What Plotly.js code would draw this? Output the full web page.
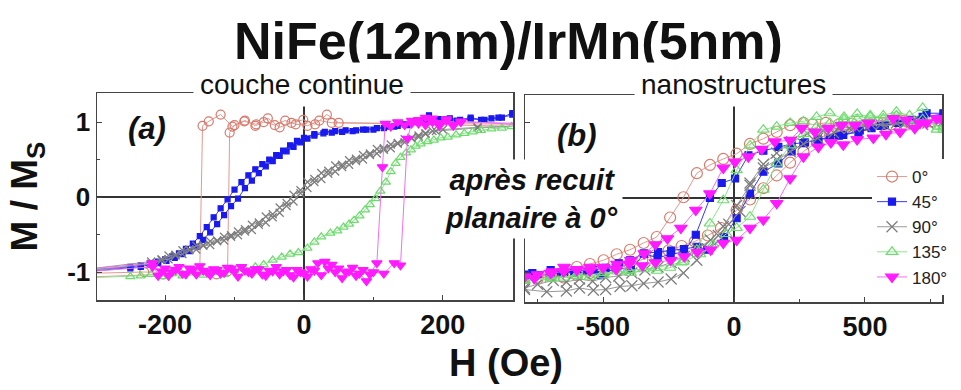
<!DOCTYPE html>
<html>
<head>
<meta charset="utf-8">
<script src="https://cdn.plot.ly/plotly-3.0.1.min.js"></script>
<style>html,body{margin:0;padding:0;background:#fff;}#chart{width:961px;height:390px;}</style>
</head>
<body>
<div id="chart"></div>
<script>
// ---------- Data ----------
const seriesNames = ['0°', '45°', '90°', '135°', '180°'];

// Tick labels
const aTickVals = [-200, 0, 200];
const aTickText = ['-200', '0', '200'];
const bTickVals = [-500, 0, 500];
const bTickText = ['-500', '0', '500'];
const yTickVals = [-1, 0, 1];
const yTickText = ['-1', '0', '1'];

// Panel (a): couche continue — each array = descending branch then ascending branch
const a0X = [320, 50, 33, 16, -1, -18, -35, -52, -69, -86, -103, -120, -137, -146, -150, -203, -320,
             -320, -230, -126, -110, -107, -100, -85, -70, -58, -42, -27, -12, 5, 22, 40, 320];
const a0Y = [0.94, 0.99, 1.10, 0.97, 1.03, 0.99, 0.93, 1.05, 0.97, 1.01, 0.94, 1.10, 1.01, 0.95, -0.98, -1.03, -1.07,
             -1.02, -1.00, -1.03, -0.99, 0.86, 0.96, 1.02, 0.95, 1.00, 0.96, 1.02, 0.97, 0.95, 1.02, 0.99, 0.97];

const a45X = [320, 300, 285, 270, 255, 240, 225, 210, 195, 180, 165, 150, 135, 120, 105, 90, 75, 60, 45, 30, 15, 0,
              -10, -20, -30, -40, -50, -60, -70, -80, -90, -100, -110, -120, -130, -140, -150, -160, -170, -180, -190,
              -200, -210, -222, -235, -250, -320,
              -320, -250, -235, -222, -210, -198, -186, -175, -165, -155, -145, -135, -125, -115, -105, -95, -85, -75,
              -65, -55, -45, -35, -25, -15, -5, 5, 15, 28, 40, 55, 70, 85, 100, 115, 130, 145, 160, 175, 190, 205, 220,
              240, 260, 280, 300, 320];
const a45Y = [1.10, 1.12, 1.06, 1.05, 1.03, 1.06, 1.03, 1.05, 1.04, 1.09, 1.02, 0.96, 0.95, 0.94, 0.92, 0.90, 0.89, 0.89,
              0.88, 0.87, 0.84, 0.79, 0.75, 0.69, 0.62, 0.56, 0.50, 0.44, 0.37, 0.29, 0.20, 0.10, -0.03, -0.15, -0.27,
              -0.40, -0.52, -0.62, -0.69, -0.75, -0.79, -0.83, -0.86, -0.88, -0.91, -0.93, -0.98,
              -1.00, -0.95, -0.93, -0.90, -0.88, -0.85, -0.81, -0.76, -0.72, -0.66, -0.57, -0.47, -0.36, -0.24, -0.12,
              -0.02, 0.12, 0.22, 0.32, 0.41, 0.48, 0.55, 0.61, 0.67, 0.73, 0.78, 0.82, 0.85, 0.86, 0.87, 0.88, 0.90,
              0.90, 0.92, 0.94, 0.97, 1.00, 1.03, 1.01, 1.04, 1.02, 1.04, 1.03, 1.06, 1.10, 1.12];

const a90X = [320, 250, 200, 185, 175, 165, 155, 145, 135, 125, 115, 105, 95, 85, 75, 65, 55, 45, 35, 25, 15, 5, -5,
              -15, -25, -35, -45, -55, -65, -75, -85, -95, -105, -115, -125, -135, -145, -155, -165, -175, -185, -195,
              -205, -220, -320,
              -320, -220, -205, -195, -185, -175, -165, -155, -145, -135, -125, -115, -105, -95, -85, -75, -65, -55,
              -45, -35, -25, -15, -5, 5, 15, 25, 35, 45, 55, 65, 75, 85, 95, 105, 115, 125, 135, 145, 155, 165, 175,
              190, 250, 320];
const a90Y = [0.95, 0.93, 0.90, 0.88, 0.84, 0.82, 0.78, 0.77, 0.72, 0.70, 0.65, 0.64, 0.58, 0.56, 0.51, 0.49, 0.43,
              0.42, 0.35, 0.32, 0.24, 0.20, 0.09, 0.03, -0.08, -0.14, -0.23, -0.26, -0.34, -0.37, -0.43, -0.46, -0.51,
              -0.53, -0.58, -0.59, -0.64, -0.65, -0.70, -0.71, -0.77, -0.78, -0.83, -0.86, -0.97,
              -0.99, -0.89, -0.84, -0.83, -0.78, -0.76, -0.71, -0.70, -0.65, -0.64, -0.59, -0.58, -0.53, -0.51, -0.46,
              -0.44, -0.37, -0.34, -0.27, -0.21, -0.12, -0.06, 0.05, 0.12, 0.20, 0.24, 0.31, 0.34, 0.40, 0.43, 0.48,
              0.50, 0.56, 0.58, 0.63, 0.65, 0.71, 0.73, 0.79, 0.80, 0.85, 0.88, 0.92, 0.95];

const a135X = [-320, -250, -235, -220, -205, -190, -175, -160, -145, -130, -115, -100, -85, -70, -58, -45, -32, -20,
               -8, 5, 15, 25, 38, 48, 57, 65, 72, 80, 88, 95, 103, 110, 118, 125, 132, 139, 147, 154, 161, 168, 178,
               187, 197, 207, 219, 231, 243, 255, 270, 285, 299, 320];
const a135Y = [-1.08, -1.06, -1.05, -1.03, -1.06, -1.02, -1.05, -1.01, -1.04, -1.00, -1.03, -0.98, -0.96, -0.93, -0.90,
               -0.84, -0.80, -0.76, -0.74, -0.68, -0.60, -0.53, -0.48, -0.45, -0.40, -0.36, -0.31, -0.25, -0.17, -0.10,
               -0.02, 0.08, 0.20, 0.34, 0.45, 0.53, 0.59, 0.63, 0.68, 0.71, 0.74, 0.76, 0.79, 0.80, 0.83, 0.85, 0.87,
               0.89, 0.91, 0.92, 0.94, 0.95];

const a180X = [320, 226, 215, 205, 195, 185, 175, 165, 155, 145, 135, 125, 117, 113, 105, 95, 85, 75, 65, 55, 45, 35,
               25, 15, 5, -5, -15, -25, -35, -45, -55, -65, -75, -85, -95, -105, -115, -125, -135, -145, -155, -165,
               -175, -185, -195, -205, -218, -320,
               -320, -218, -210, -200, -190, -180, -170, -160, -150, -140, -130, -120, -110, -100, -90, -80, -70, -60,
               -50, -40, -30, -20, -10, 0, 10, 20, 30, 40, 50, 60, 70, 80, 90, 100, 115, 130, 139, 149, 155, 165,
               175, 185, 195, 205, 215, 226, 320];
const a180Y = [0.98, 1.00, 0.97, 1.04, 0.95, 1.00, 1.06, 0.98, 1.02, 0.96, 1.00, 0.94, 0.98, 0.40, -0.88, -1.03, -0.97,
               -1.05, -0.99, -1.08, -1.00, -0.95, -1.04, -0.98, -1.06, -1.00, -1.07, -0.97, -1.03, -0.99, -1.05, -0.96,
               -1.02, -0.98, -1.06, -0.95, -1.01, -0.97, -1.04, -0.98, -1.03, -0.95, -1.02, -0.97, -1.05, -0.99, -0.93,
               -1.00,
               -0.97, -0.88, -1.05, -0.95, -1.00, -0.93, -1.03, -0.97, -0.92, -1.00, -0.96, -1.02, -0.94, -0.99, -0.93,
               -1.00, -0.96, -1.03, -0.98, -0.93, -0.99, -1.04, -0.97, -1.02, -0.96, -0.88, -0.86, -0.90, -0.95, -1.00,
               -0.94, -1.02, -1.12, -1.00, -1.02, -0.88, -0.91, 0.78, 0.98, 1.03, 0.96, 1.05, 0.99, 1.02, 0.95, 1.01,
               0.96];

// Panel (b): nanostructures
const b0X = [800, 750, 700, 650, 600, 550, 500, 450, 400, 350, 300, 265, 214, 163, 112, 61, 10, -41, -92, -142, -193,
             -244, -295, -345, -397, -448, -498, -550, -600, -650, -700, -750, -800,
             -800, -750, -700, -650, -600, -550, -500, -450, -400, -350, -300, -250, -200, -150, -100, -50, 10, 61,
             112, 163, 214, 265, 316, 367, 418, 470, 520, 570, 620, 670, 720, 800];
const b0Y = [1.05, 1.02, 1.00, 1.03, 0.98, 1.00, 0.97, 0.99, 0.98, 1.00, 0.98, 1.00, 0.97, 0.88, 0.79, 0.72, 0.59,
             0.52, 0.44, 0.33, 0.01, -0.26, -0.52, -0.60, -0.69, -0.75, -0.83, -0.88, -0.92, -0.98, -1.02, -1.05, -1.07,
             -1.05, -1.08, -1.04, -1.06, -1.03, -1.00, -0.97, -0.93, -0.88, -0.82, -0.76, -0.70, -0.64, -0.58, -0.50,
             -0.40, -0.16, -0.02, 0.13, 0.30, 0.47, 0.62, 0.74, 0.84, 0.90, 0.95, 0.98, 1.00, 1.02, 1.00, 1.03, 1.05];

const b45X = [800, 735, 678, 627, 576, 525, 475, 417, 366, 322, 271, 220, 169, 112, 55, 4, -47, -92, -146, -191, -242,
              -292, -343, -394, -450, -509, -560, -610, -660, -700, -770, -800,
              -800, -750, -700, -650, -600, -537, -490, -440, -397, -345, -290, -240, -191, -140, -102, -38, 10, 61,
              112, 169, 220, 265, 320, 400, 480, 560, 640, 720, 800];
const b45Y = [1.13, 1.13, 1.04, 1.00, 0.97, 0.93, 0.88, 0.84, 0.80, 0.77, 0.74, 0.72, 0.68, 0.63, 0.57, 0.26, 0.20,
              0.00, -0.49, -0.72, -0.75, -0.80, -0.74, -0.96, -0.93, -1.03, -0.98, -1.00, -0.99, -0.96, -1.00, -1.02,
              -1.05, -1.03, -1.02, -1.00, -0.97, -0.96, -0.93, -0.87, -0.83, -0.74, -0.72, -0.70, -0.68, -0.65, -0.69,
              -0.52, -0.27, 0.06, 0.35, 0.46, 0.62, 0.73, 0.78, 0.83, 0.90, 0.96, 1.02, 1.08, 1.12];

const b90X = [800, 720, 650, 580, 520, 460, 400, 340, 280, 220, 163, 112, 61, 23, -20, -60, -100, -142, -193, -240,
              -290, -345, -390, -435, -490, -537, -590, -640, -715, -800,
              -800, -750, -690, -640, -590, -540, -490, -440, -390, -340, -290, -240, -190, -140, -90, -41, 10, 61,
              112, 163, 214, 265, 320, 380, 440, 500, 560, 620, 680, 740, 800];
const b90Y = [1.00, 0.98, 1.00, 0.96, 0.99, 0.95, 0.93, 0.90, 0.86, 0.75, 0.60, 0.45, 0.20, -0.18, -0.35, -0.50,
              -0.68, -0.83, -1.00, -1.08, -1.12, -1.14, -1.17, -1.18, -1.22, -1.23, -1.20, -1.24, -1.25, -1.22,
              -1.20, -1.15, -1.10, -1.12, -1.08, -1.11, -1.06, -1.04, -1.00, -0.96, -0.92, -0.86, -0.78, -0.68, -0.56,
              -0.38, -0.10, 0.17, 0.40, 0.51, 0.62, 0.72, 0.80, 0.87, 0.93, 0.96, 0.98, 1.00, 1.02, 1.00, 1.03];

const b135X = [800, 774, 720, 670, 620, 570, 520, 470, 420, 366, 315, 265, 214, 163, 112, 61, 10, -41, -92, -142,
               -193, -244, -295, -345, -395, -445, -500, -550, -600, -650, -700, -800,
               -800, -700, -600, -500, -400, -300, -200, -130, -80, -30, 10, 61, 112, 163, 214, 265, 315, 366, 420,
               470, 520, 570, 620, 670, 720, 780, 800];
const b135Y = [0.91, 0.91, 1.20, 1.10, 1.15, 1.10, 1.08, 1.12, 1.05, 1.13, 1.08, 1.02, 1.00, 0.95, 0.91, 0.70, 0.37,
               -0.03, -0.34, -0.69, -0.85, -0.93, -0.97, -0.95, -1.00, -0.98, -1.03, -1.05, -1.02, -1.06, -1.08, -1.10,
               -1.10, -1.06, -1.04, -1.00, -0.97, -0.93, -0.86, -0.75, -0.62, -0.48, -0.40, -0.25, 0.11, 0.46, 0.70,
               0.85, 0.95, 1.00, 1.08, 1.05, 1.10, 1.06, 1.10, 1.00, 1.05, 0.95, 0.95];

const b180X = [800, 774, 710, 659, 608, 513, 462, 411, 360, 309, 258, 214, 156, 106, 55, 4, -41, -92, -146, -203,
               -254, -300, -343, -394, -447, -500, -550, -600, -649, -693, -763, -800,
               -800, -750, -700, -650, -600, -550, -500, -450, -400, -350, -300, -242, -190, -140, -89, -41, 10, 61,
               112, 163, 214, 265, 322, 370, 417, 470, 532, 580, 634, 690, 735, 800];
const b180Y = [1.05, 1.06, 1.00, 1.04, 1.06, 1.00, 0.97, 0.97, 0.93, 0.88, 0.93, 0.77, 0.75, 0.65, 0.55, 0.48, 0.40,
               0.06, -0.16, -0.40, -0.54, -0.62, -0.74, -0.83, -0.88, -0.93, -0.92, -0.96, -0.92, -0.98, -1.07, -1.05,
               -1.05, -1.02, -1.00, -0.98, -0.95, -0.97, -0.92, -0.95, -0.88, -0.90, -0.86, -0.83, -0.78, -0.72, -0.69,
               -0.60, -0.56, -0.40, -0.29, -0.07, 0.26, 0.55, 0.68, 0.74, 0.71, 0.78, 0.80, 0.85, 0.88, 0.93, 1.00,
               1.02];

// ---------- Styles ----------
const colors = ['#d97a6c', '#1a1aee', '#7d7d7d', '#6ddc6d', '#ff1aff'];
const lineColors = ['#e29a90', '#3a3af0', '#9a9a9a', '#8fe48f', '#f070f0'];
const symbols = ['circle-open', 'square', 'x-thin-open', 'triangle-up-open', 'triangle-down'];
const sizeA = [9, 5, 8, 8, 9];
const sizeB = [11, 7, 11, 10, 11];

const dataA = [[a0X, a0Y], [a45X, a45Y], [a90X, a90Y], [a135X, a135Y], [a180X, a180Y]];
const dataB = [[b0X, b0Y], [b45X, b45Y], [b90X, b90Y], [b135X, b135Y], [b180X, b180Y]];

const traces = [];
dataA.forEach((d, i) => {
  traces.push({
    x: d[0], y: d[1], xaxis: 'x', yaxis: 'y', type: 'scatter', mode: 'lines+markers',
    name: seriesNames[i], showlegend: false, legendgroup: seriesNames[i],
    line: {color: lineColors[i], width: 1},
    marker: {symbol: symbols[i], size: sizeA[i], color: colors[i], line: {color: colors[i], width: 1.2}}
  });
});
dataB.forEach((d, i) => {
  traces.push({
    x: d[0], y: d[1], xaxis: 'x2', yaxis: 'y2', type: 'scatter', mode: 'lines+markers',
    name: seriesNames[i], showlegend: true, legendgroup: seriesNames[i],
    line: {color: lineColors[i], width: 1},
    marker: {symbol: symbols[i], size: sizeB[i], color: colors[i], line: {color: colors[i], width: 1.2}}
  });
});

const FONT = 'Liberation Sans, Arial, sans-serif';
const W = 961, H = 390;
const px = v => v / W;
const py = v => 1 - v / H;

const axisCommon = {
  showline: true, mirror: true, linecolor: '#444', linewidth: 1.5,
  ticks: 'inside', ticklen: 5, tickcolor: '#444', tickwidth: 1,
  showgrid: false, zeroline: true, zerolinecolor: '#333', zerolinewidth: 1.5,
  tickfont: {family: FONT, size: 27, color: '#111', weight: 'bold'}
};

function note(x, y, text, font, extra) {
  return Object.assign({xref: 'paper', yref: 'paper', x: px(x), y: py(y), xanchor: 'center', yanchor: 'middle',
    text: text, showarrow: false, font: Object.assign({family: FONT, color: '#111'}, font)}, extra || {});
}

const layout = {
  width: W, height: H,
  margin: {l: 0, r: 0, t: 0, b: 0},
  paper_bgcolor: '#fff', plot_bgcolor: '#fff',
  font: {family: FONT},
  showlegend: true,
  legend: {
    x: px(872), xanchor: 'left', y: py(159), yanchor: 'top',
    bgcolor: '#fff', borderwidth: 0,
    font: {family: FONT, size: 17, color: '#222'},
    tracegroupgap: 0
  },
  xaxis: Object.assign({}, axisCommon, {
    domain: [px(97), px(513)], range: [-298, 301], anchor: 'y',
    tickmode: 'array', tickvals: aTickVals, ticktext: aTickText,
    minor: {ticks: 'inside', ticklen: 3, tickmode: 'linear', tick0: 0, dtick: 100, tickcolor: '#444'}
  }),
  yaxis: Object.assign({}, axisCommon, {
    domain: [1 - 300 / H, 1 - 93 / H], range: [-1.373, 1.387], anchor: 'x',
    tickmode: 'array', tickvals: yTickVals, ticktext: yTickText,
    minor: {ticks: 'inside', ticklen: 3, tickmode: 'linear', tick0: 0, dtick: 0.5, tickcolor: '#444'},
    tickfont: {family: FONT, size: 26, color: '#111', weight: 'bold'},
    title: {text: 'M / M<sub>S</sub>', font: {family: FONT, size: 37, color: '#111', weight: 'bold'}, standoff: 18}
  }),
  xaxis2: Object.assign({}, axisCommon, {
    domain: [px(525), px(942)], range: [-798, 794], anchor: 'y2',
    tickmode: 'array', tickvals: bTickVals, ticktext: bTickText,
    minor: {ticks: 'inside', ticklen: 3, tickmode: 'linear', tick0: 0, dtick: 250, tickcolor: '#444'}
  }),
  yaxis2: Object.assign({}, axisCommon, {
    domain: [1 - 302 / H, 1 - 95 / H], range: [-1.387, 1.373], anchor: 'x2',
    tickmode: 'array', tickvals: yTickVals, showticklabels: false,
    minor: {ticks: 'inside', ticklen: 3, tickmode: 'linear', tick0: 0, dtick: 0.5, tickcolor: '#444'}
  }),
  annotations: [
    note(508, 41, 'NiFe(12nm)/IrMn(5nm)', {size: 52, weight: 'bold'}),
    note(302, 84, 'couche continue', {size: 28}, {bgcolor: '#fff', borderpad: 6}),
    note(733, 84, 'nanostructures', {size: 28}, {bgcolor: '#fff', borderpad: 6}),
    note(147, 129, '(a)', {size: 31, weight: 'bold', style: 'italic'}),
    note(577, 135, '(b)', {size: 31, weight: 'bold', style: 'italic'}),
    note(531, 199, 'après recuit<br>planaire à 0°', {size: 29, weight: 'bold', style: 'italic'},
         {bgcolor: '#fff', borderpad: 4, align: 'center'}),
    note(506, 363, 'H (Oe)', {size: 38, weight: 'bold'})
  ]
};

Plotly.newPlot('chart', traces, layout, {staticPlot: true, displayModeBar: false});
</script>
</body>
</html>
